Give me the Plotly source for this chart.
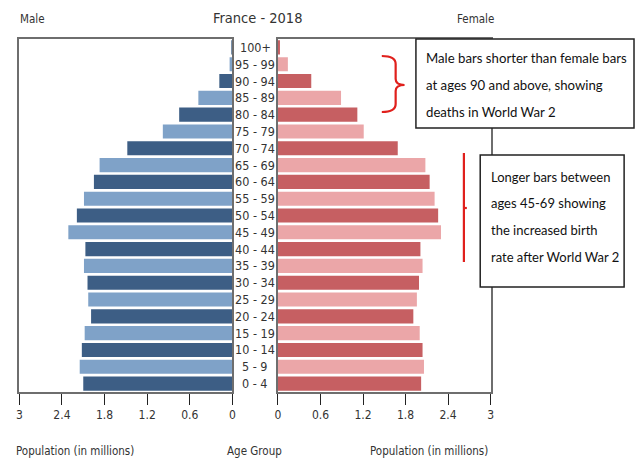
import plotly.graph_objects as go

W, H = 639, 459

ages = ["0 - 4", "5 - 9", "10 - 14", "15 - 19", "20 - 24", "25 - 29", "30 - 34",
        "35 - 39", "40 - 44", "45 - 49", "50 - 54", "55 - 59", "60 - 64", "65 - 69",
        "70 - 74", "75 - 79", "80 - 84", "85 - 89", "90 - 94", "95 - 99", "100+"]
male = [2.10, 2.15, 2.12, 2.08, 1.99, 2.03, 2.04, 2.09, 2.07, 2.31, 2.19, 2.09,
        1.95, 1.87, 1.48, 0.98, 0.75, 0.48, 0.185, 0.04, 0.005]
female = [2.02, 2.06, 2.04, 2.00, 1.91, 1.96, 1.99, 2.04, 2.01, 2.30, 2.26, 2.21,
          2.14, 2.08, 1.69, 1.21, 1.12, 0.89, 0.47, 0.14, 0.02]
tick_vals = [0, 0.6, 1.2, 1.8, 2.4, 3]
tick_text = ["0", "0.6", "1.2", "1.8", "2.4", "3"]

male_cols = ["#3d5e85" if i % 2 == 0 else "#7fa2c8" for i in range(len(ages))]
female_cols = ["#c65f62" if i % 2 == 0 else "#eba6a8" for i in range(len(ages))]

FONT = "DejaVu Sans Condensed, DejaVu Sans, sans-serif"
BOXFONT = "Lato, sans-serif"


def px(x):
    return x / W


def py(y):
    return 1 - y / H


fig = go.Figure()
fig.add_trace(go.Bar(y=ages, x=male, orientation="h", marker=dict(color=male_cols, line_width=0),
                     xaxis="x", yaxis="y", showlegend=False))
fig.add_trace(go.Bar(y=ages, x=female, orientation="h", marker=dict(color=female_cols, line_width=0),
                     xaxis="x2", yaxis="y2", showlegend=False))

axcommon = dict(showgrid=False, zeroline=False, showline=True, mirror=True, linecolor="#6e6e6e",
                linewidth=1.5, ticks="outside", ticklen=11, tickcolor="#222", tickwidth=1,
                tickvals=tick_vals, ticktext=tick_text, tickfont=dict(family=FONT, size=12, color="#333"),
                fixedrange=True)
ycommon = dict(showgrid=False, zeroline=False, showline=True, mirror=True, linecolor="#6e6e6e",
               linewidth=1.5, showticklabels=False, ticks="", categoryorder="array",
               categoryarray=ages, range=[-0.5, len(ages) - 0.5])

ydom = [py(392), py(39)]
fig.update_layout(
    width=W, height=H, margin=dict(l=0, r=0, t=0, b=0),
    paper_bgcolor="white", plot_bgcolor="white",
    bargap=0.16,
    xaxis=dict(domain=[px(16.5), px(232)], range=[3, 0], anchor="y", **axcommon),
    xaxis2=dict(domain=[px(278), px(493)], range=[0, 3], anchor="y2", **axcommon),
    yaxis=dict(domain=ydom, anchor="x", **ycommon),
    yaxis2=dict(domain=ydom, anchor="x2", **ycommon),
)

ann = []
for a in ages:
    ann.append(dict(x=px(255), y=a, xref="paper", yref="y", text=a, showarrow=False,
                    font=dict(family=FONT, size=12.5, color="#333"), xanchor="center", yanchor="middle"))

extra = [
    dict(x=px(257), y=py(18), text="France - 2018", font=dict(family=FONT, size=14.5, color="#333")),
    dict(x=px(15), y=py(19), text="Male", xanchor="left", font=dict(family=FONT, size=11.5, color="#333")),
    dict(x=px(478), y=py(19), text="Female", font=dict(family=FONT, size=11.5, color="#333")),
    dict(x=px(73), y=py(451), text="Population (in millions)", font=dict(family=FONT, size=11.5, color="#333")),
    dict(x=px(254), y=py(451), text="Age Group", font=dict(family=FONT, size=11.5, color="#333")),
    dict(x=px(431), y=py(451), text="Population (in millions)", font=dict(family=FONT, size=11.5, color="#333")),
]
for a in extra:
    a.update(xref="paper", yref="paper", showarrow=False)
    a.setdefault("xanchor", "center")
    a["yanchor"] = "middle"
ann += extra

box1_lines = ["Male bars shorter than female bars", "at ages 90 and above, showing", "deaths in World War 2"]
box1_y = [58, 85, 112]
for t, yy in zip(box1_lines, box1_y):
    ann.append(dict(x=px(426), y=py(yy), xref="paper", yref="paper", text=t, showarrow=False,
                    xanchor="left", yanchor="middle", font=dict(family=BOXFONT, size=13.2, color="#111")))
box2_lines = ["Longer bars between", "ages 45-69 showing", "the increased birth", "rate after World War 2"]
box2_y = [177, 203, 230, 257]
for t, yy in zip(box2_lines, box2_y):
    ann.append(dict(x=px(491), y=py(yy), xref="paper", yref="paper", text=t, showarrow=False,
                    xanchor="left", yanchor="middle", font=dict(family=BOXFONT, size=13, color="#111")))
fig.update_layout(annotations=ann)

shapes = [
    dict(type="rect", xref="paper", yref="paper", x0=px(417.5), x1=px(638), y0=py(128), y1=py(39),
         line=dict(color="#222", width=1.5), fillcolor="white", layer="above"),
    dict(type="rect", xref="paper", yref="paper", x0=px(482.5), x1=px(628), y0=py(287), y1=py(155),
         line=dict(color="#222", width=1.5), fillcolor="white", layer="above"),
]

brace = ("M {a},{b} Q {c},{b} {c},{d} L {c},{e} Q {c},{f} {g},{f} Q {c},{f} {c},{h} L {c},{i} Q {c},{j} {a},{j}")
brace = brace.format(a=px(383), b=py(56), c=px(397), d=py(64), e=py(79), f=py(85), g=px(406),
                     h=py(91), i=py(104), j=py(112))
shapes.append(dict(type="path", xref="paper", yref="paper", path=brace,
                   line=dict(color="#e0201c", width=2.2)))
shapes.append(dict(type="line", xref="paper", yref="paper", x0=px(466), x1=px(466), y0=py(153), y1=py(262),
                   line=dict(color="#e0201c", width=2.2)))
shapes.append(dict(type="line", xref="paper", yref="paper", x0=px(466), x1=px(469), y0=py(208), y1=py(208),
                   line=dict(color="#e0201c", width=2.2)))
fig.update_layout(shapes=shapes)

fig.write_html("out.html")
